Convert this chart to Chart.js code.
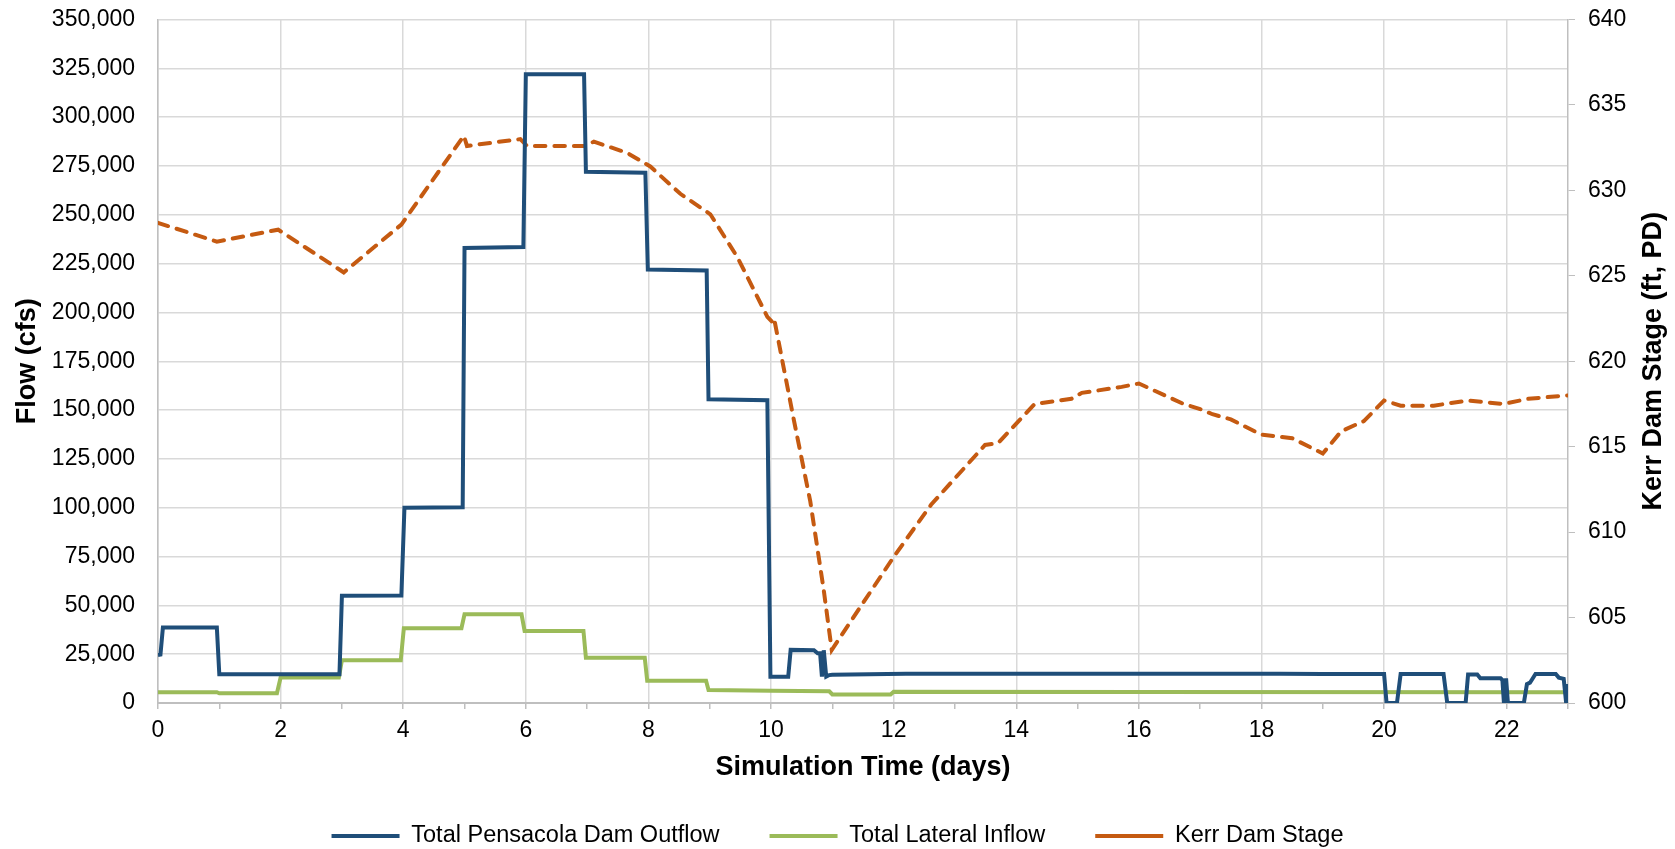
<!DOCTYPE html>
<html>
<head>
<meta charset="utf-8">
<title>Pensacola Dam Outflow and Kerr Dam Stage</title>
<script src="https://cdn.jsdelivr.net/npm/chart.js@4.4.1/dist/chart.umd.min.js"></script>
<style>
    html, body { margin: 0; padding: 0; background: #ffffff; }
    #flow_chart { display: block; }
</style>
</head>
<body>
<canvas id="flow_chart" width="1675" height="849"></canvas>
<script>
/**
 * Simulation flows and stage
 */

// Total Pensacola Dam Outflow (cfs)
const outflowDays = [0, 0.04, 0.08, 0.96, 1.0, 2.0, 2.96, 3.0, 3.97, 4.02, 4.97, 5.0, 5.96, 6.0,
    6.95, 6.98, 7.95, 7.99, 8.95, 8.98, 9.94, 9.99, 10.28, 10.32, 10.7, 10.76, 10.8, 10.83,
    10.86, 10.9, 10.95, 11.0, 12.2, 18.3, 19.0, 20.0, 20.04, 20.21, 20.27, 20.97, 21.03,
    21.33, 21.37, 21.52, 21.57, 21.9, 21.93, 21.955, 21.99, 22.02, 22.28, 22.33, 22.38,
    22.47, 22.8, 22.85, 22.93, 22.97, 23.0];
const outflowCfs = [24600, 24800, 38600, 38600, 14700, 14700, 14700, 54900, 55000, 100000, 100200,
    233000, 233500, 322000, 322000, 272000, 271500, 222000, 221500, 155500, 155000, 13500,
    13500, 27200, 27000, 25500, 25500, 13500, 27000, 13500, 14300, 14500, 15000, 15000,
    14800, 14800, 0, 0, 14900, 14900, 0, 0, 14600, 14600, 12700, 12700, 11800, 0, 12600, 0,
    0, 9700, 10400, 14900, 14900, 13000, 12400, 0, 9700];

// Total Lateral Inflow (cfs)
const inflowDays = [0, 0.96, 1.0, 1.94, 2.0, 2.95, 3.0, 3.96, 4.01, 4.95, 5.0, 5.93, 5.98, 6.94,
    6.98, 7.94, 7.98, 8.94, 8.98, 10.0, 10.95, 11.0, 11.95, 12.0, 16.0, 23.0];
const inflowCfs = [5500, 5500, 5000, 5000, 13000, 13000, 21900, 21900, 38300, 38300, 45400, 45400,
    36900, 36900, 23200, 23200, 11400, 11400, 6700, 6300, 6000, 4400, 4400, 5800, 5600, 5500];

// Kerr Dam Stage (ft, PD)
const stageDays = [0, 0.96, 1.96, 3.03, 3.97, 4.99, 5.04, 5.91, 6.02, 6.95, 7.11, 7.65, 8.03,
    8.52, 9.01, 9.45, 9.94, 10.02, 10.05, 10.37, 10.64, 10.86, 10.99, 12.01, 12.61, 13.49,
    13.7, 14.3, 14.9, 15.07, 15.72, 16.0, 16.73, 17.0, 17.2, 17.5, 18.0, 18.5, 19.0, 19.3,
    19.67, 20.0, 20.27, 20.81, 21.36, 21.95, 22.34, 22.99];
const stageFt = [628.1, 627.0, 627.7, 625.2, 628.0, 633.2, 632.6, 633.0, 632.6, 632.6, 632.85,
    632.2, 631.4, 629.8, 628.6, 626.1, 622.6, 622.3, 622.5, 616.6, 611.8, 606.6, 603.1,
    608.6, 611.6, 615.1, 615.2, 617.5, 617.8, 618.15, 618.5, 618.7, 617.5, 617.2, 616.9,
    616.6, 615.7, 615.5, 614.6, 615.9, 616.5, 617.7, 617.4, 617.4, 617.7, 617.5, 617.8, 618.0];

// Axis ranges
const dayRange = [0, 23];
const flowRange = [0, 350000];
const stageRange = [600, 640];

const seriesNames = ['Total Pensacola Dam Outflow', 'Total Lateral Inflow', 'Kerr Dam Stage'];

let flowChart = null;

const FONT = '"Liberation Sans", Arial, sans-serif';

function toPoints(days, values) {
    return days.map((d, i) => ({ x: d, y: values[i] }));
}

// fixed axis width; drop the label overhang so layout.padding sets the plot top
function fixWidth(width) {
    return function(scale) {
        scale.width = width;
        scale.paddingTop = 0;
        scale.paddingBottom = 0;
    };
}

/**
 * Right axis title reads bottom-to-top like the left one
 */
const rightTitlePlugin = {
    id: 'rightTitle',
    afterDraw(chart) {
        const area = chart.chartArea;
        const ctx = chart.ctx;
        ctx.save();
        ctx.translate(chart.scales.y2.right - 21, (area.top + area.bottom) / 2);
        ctx.rotate(-Math.PI / 2);
        ctx.font = 'bold 27px ' + FONT;
        ctx.fillStyle = '#000000';
        ctx.textAlign = 'center';
        ctx.textBaseline = 'middle';
        ctx.fillText('Kerr Dam Stage (ft, PD)', 0, 0);
        ctx.restore();
    }
};

/**
 * Create the flow / stage chart
 */
function createFlowChart() {
    const ctx = document.getElementById('flow_chart');
    if (!ctx) return;

    if (flowChart) {
        flowChart.destroy();
    }

    flowChart = new Chart(ctx, {
        type: 'line',
        data: {
            datasets: [{
                label: seriesNames[0],
                data: toPoints(outflowDays, outflowCfs),
                borderColor: '#1F4E79',
                backgroundColor: '#1F4E79',
                borderWidth: 4,
                yAxisID: 'y'
            }, {
                label: seriesNames[1],
                data: toPoints(inflowDays, inflowCfs),
                borderColor: '#9BBB59',
                backgroundColor: '#9BBB59',
                borderWidth: 4,
                yAxisID: 'y'
            }, {
                label: seriesNames[2],
                data: toPoints(stageDays, stageFt),
                borderColor: '#C55A11',
                backgroundColor: '#C55A11',
                borderWidth: 4,
                borderDash: [10.5, 9],
                borderCapStyle: 'round',
                yAxisID: 'y2'
            }]
        },
        options: {
            responsive: false,
            animation: false,
            devicePixelRatio: 1,
            elements: {
                point: { radius: 0, hoverRadius: 0 },
                line: { tension: 0 }
            },
            layout: {
                padding: { top: 19.5, left: 0, right: 0, bottom: -8.75 }
            },
            plugins: {
                tooltip: { enabled: false },
                legend: {
                    position: 'bottom',
                    labels: {
                        usePointStyle: true,
                        pointStyle: 'line',
                        pointStyleWidth: 68,
                        padding: 50,
                        color: '#000000',
                        font: { family: FONT, size: 23.5 }
                    }
                }
            },
            scales: {
                x: {
                    type: 'linear',
                    min: dayRange[0],
                    max: dayRange[1],
                    afterFit: function(scale) { scale.height = 71.25; },
                    border: { color: '#BFBFBF', width: 2 },
                    grid: {
                        color: function(c) {
                            return c.tick && c.tick.value % 2 === 0 ? '#D9D9D9' : 'rgba(0,0,0,0)';
                        },
                        lineWidth: 1.5,
                        tickColor: '#BFBFBF',
                        tickLength: 6
                    },
                    ticks: {
                        stepSize: 1,
                        autoSkip: false,
                        maxRotation: 0,
                        padding: 8,
                        color: '#000000',
                        font: { family: FONT, size: 23 },
                        callback: function(value) {
                            return value % 2 === 0 ? String(value) : '';
                        }
                    },
                    title: {
                        display: true,
                        text: 'Simulation Time (days)',
                        color: '#000000',
                        font: { family: FONT, size: 27, weight: 'bold' },
                        padding: { top: 0, bottom: -9 }
                    }
                },
                y: {
                    position: 'left',
                    min: flowRange[0],
                    max: flowRange[1],
                    afterFit: fixWidth(158),
                    border: { color: '#BFBFBF', width: 1.5 },
                    grid: {
                        color: '#D9D9D9',
                        lineWidth: 1.5,
                        drawTicks: false
                    },
                    ticks: {
                        stepSize: 25000,
                        padding: 23,
                        color: '#000000',
                        font: { family: FONT, size: 23 },
                        callback: function(value) {
                            return value.toLocaleString('en-US');
                        }
                    },
                    title: {
                        display: true,
                        text: 'Flow (cfs)',
                        color: '#000000',
                        font: { family: FONT, size: 27, weight: 'bold' },
                        padding: { top: 11, bottom: 0 }
                    }
                },
                y2: {
                    position: 'right',
                    min: stageRange[0],
                    max: stageRange[1],
                    afterFit: fixWidth(107),
                    border: { color: '#BFBFBF', width: 1.5 },
                    grid: {
                        drawOnChartArea: false,
                        tickColor: '#BFBFBF',
                        tickLength: 7
                    },
                    ticks: {
                        stepSize: 5,
                        padding: 13,
                        color: '#000000',
                        font: { family: FONT, size: 23 }
                    }
                }
            }
        },
        plugins: [rightTitlePlugin]
    });
}

createFlowChart();
</script>
</body>
</html>
